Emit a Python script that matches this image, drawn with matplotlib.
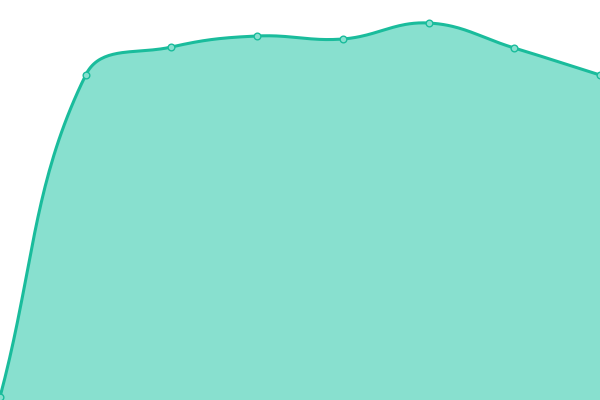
import numpy as np
import matplotlib
matplotlib.use("Agg")
import matplotlib.pyplot as plt

# values (plot is 400 units tall)
categories = ["A", "B", "C", "D", "E", "F", "G", "H"]
values = [3, 325, 353, 364, 361, 377, 352, 325]

line_color = "#1abc9c"
fill_color = "#88e0cf"
tension = 0.4


def spline_pixels(px, py, t=tension, n=40):
    # chart.js style spline, worked out in pixel space
    k = len(px)
    cps = []
    for i in range(k):
        prev = (px[max(i - 1, 0)], py[max(i - 1, 0)])
        cur = (px[i], py[i])
        nxt = (px[min(i + 1, k - 1)], py[min(i + 1, k - 1)])
        d01 = np.hypot(cur[0] - prev[0], cur[1] - prev[1])
        d12 = np.hypot(nxt[0] - cur[0], nxt[1] - cur[1])
        s01 = d01 / (d01 + d12) if d01 + d12 else 0
        s12 = d12 / (d01 + d12) if d01 + d12 else 0
        fa, fb = t * s01, t * s12
        cps.append(((cur[0] - fa * (nxt[0] - prev[0]), cur[1] - fa * (nxt[1] - prev[1])),
                    (cur[0] + fb * (nxt[0] - prev[0]), cur[1] + fb * (nxt[1] - prev[1]))))
    out_x, out_y = [], []
    u = np.linspace(0, 1, n)
    for i in range(k - 1):
        p0 = (px[i], py[i])
        p1 = cps[i][1]
        p2 = cps[i + 1][0]
        p3 = (px[i + 1], py[i + 1])
        out_x.extend((1-u)**3*p0[0] + 3*(1-u)**2*u*p1[0] + 3*(1-u)*u**2*p2[0] + u**3*p3[0])
        out_y.extend((1-u)**3*p0[1] + 3*(1-u)**2*u*p1[1] + 3*(1-u)*u**2*p2[1] + u**3*p3[1])
    return np.array(out_x), np.array(out_y)


x = np.arange(len(values))

fig = plt.figure(figsize=(6, 4), dpi=100)
ax = fig.add_axes([0, 0, 1, 1])
ax.set_xlim(0, len(values) - 1)
ax.set_ylim(0, 400)
ax.axis("off")

pts = ax.transData.transform(np.column_stack([x, values]))
sx, sy = spline_pixels(pts[:, 0], pts[:, 1])
curve = ax.transData.inverted().transform(np.column_stack([sx, sy]))
cx, cy = curve[:, 0], curve[:, 1]

ax.fill_between(cx, 0, cy, color=fill_color, lw=0)
ax.plot(cx, cy, color=line_color, lw=2.2, solid_capstyle="round")
ax.plot(x, values, "o", ms=4.8, mfc=fill_color, mec=line_color, mew=1, clip_on=False)

fig.savefig("out.png", dpi=100)
